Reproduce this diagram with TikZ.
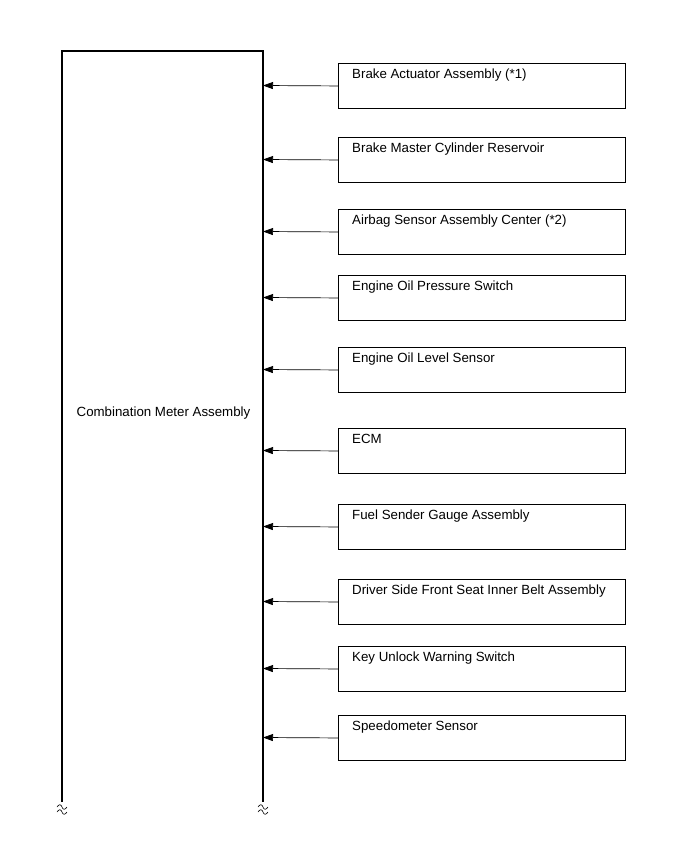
\documentclass[tikz,border=0pt]{standalone}
\usepackage{fontspec}
\setmainfont{Liberation Sans}
\usetikzlibrary{arrows.meta}
\begin{document}
\begin{tikzpicture}[x=1pt,y=-1pt,
  unit/.style={draw,line width=0.9pt,minimum width=287pt,minimum height=45pt,anchor=north west,inner sep=0pt},
  lbl/.style={anchor=base west,inner sep=0pt,font=\fontsize{13.3}{15}\selectfont},
  conn/.style={line width=0.7pt,-{Triangle[length=10pt,width=7pt]}},
  frame/.style={line width=1.3pt},
  brk/.style={line width=0.6pt}]
\useasboundingbox (0,0) rectangle (690,854);
% main assembly
\coordinate (mtl) at (62,51);
\coordinate (mtr) at (263,51);
\coordinate (mbl) at (62,802);
\coordinate (mbr) at (263,802);
\draw[frame] (mbl) -- (mtl) -- (mtr) -- (mbr);
\node[font=\fontsize{13.3}{15}\selectfont,anchor=base] (meter) at (163.5,416) {Combination Meter Assembly};
% break marks
\foreach \xx/\nm in {62/bl,263/br}{
  \draw[brk] (\xx-5,807) .. controls (\xx-3,804) and (\xx-1,804) .. (\xx,807) .. controls (\xx+1,810) and (\xx+3,810) .. (\xx+5,807);
  \draw[brk] (\xx-5,812) .. controls (\xx-3,809) and (\xx-1,809) .. (\xx,812) .. controls (\xx+1,815) and (\xx+3,815) .. (\xx+5,812);
}
% units
\foreach \i/\t/\txt in {
 1/63/{Brake Actuator Assembly (*1)},
 2/137/{Brake Master Cylinder Reservoir},
 3/209/{Airbag Sensor Assembly Center (*2)},
 4/275/{Engine Oil Pressure Switch},
 5/347/{Engine Oil Level Sensor},
 6/428/{ECM},
 7/504/{Fuel Sender Gauge Assembly},
 8/579/{Driver Side Front Seat Inner Belt Assembly},
 9/646/{Key Unlock Warning Switch},
 10/715/{Speedometer Sensor}}{
  \node[unit] (u\i) at (338,\t) {};
  \node[lbl] (t\i) at (352,\t+15) {\txt};
  \coordinate (e\i) at (263,\t+22.5);
  \draw[conn] (u\i.west) -- (e\i);
}
\end{tikzpicture}
\end{document}
